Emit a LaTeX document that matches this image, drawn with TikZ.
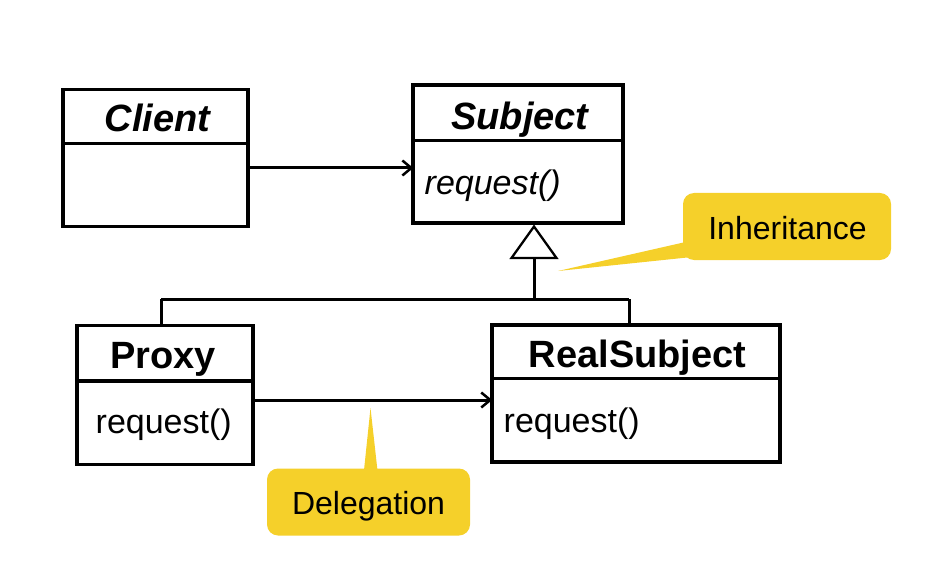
\documentclass[tikz,border=0pt]{standalone}
\usepackage{fontspec}
\setmainfont{Liberation Sans}
\usetikzlibrary{arrows.meta,calc}
\definecolor{calloutyellow}{RGB}{245,208,42}
\begin{document}
\begin{tikzpicture}[x=1pt,y=-1pt,
  cls/.style={draw,line width=3.8pt,inner sep=0pt,outer sep=0pt},
  divider/.style={line width=3.3pt},
  ttl/.style={anchor=base,inner sep=0pt,font=\fontsize{38}{40}\selectfont\bfseries},
  op/.style={anchor=base west,inner sep=0pt,font=\fontsize{34}{36}\selectfont},
  assoc/.style={line width=3pt,-{Straight Barb[length=9pt,width=15pt,line width=2.5pt]}},
  gen/.style={line width=3pt},
  callout/.style={fill=calloutyellow,rounded corners=11pt,inner sep=0pt,
    font=\fontsize{32}{34}\selectfont},
  callouttext/.style={anchor=base,inner sep=0pt,font=\fontsize{32}{34}\selectfont},
  ]
\useasboundingbox (0,0) rectangle (933,569);

% classes
\node[cls,minimum width=185pt,minimum height=137pt] (client) at (155.5,158) {};
\node[cls,minimum width=210pt,minimum height=138pt] (subject) at (518.3,154.2) {};
\node[cls,minimum width=176pt,minimum height=139pt] (proxy) at (164.7,395) {};
\node[cls,minimum width=288pt,minimum height=137pt] (real) at (636.2,393.7) {};

\draw[divider] (client.west |- 0,143.5) -- (client.east |- 0,143.5);
\draw[divider] (subject.west |- 0,140.5) -- (subject.east |- 0,140.5);
\draw[divider] (proxy.west |- 0,381) -- (proxy.east |- 0,381);
\draw[divider] (real.west |- 0,378.5) -- (real.east |- 0,378.5);

\node[ttl] (clientT) at (157.5,132) {\itshape Client};
\node[ttl] (subjectT) at (520,129.5) {\itshape Subject};
\node[ttl] (proxyT) at (163,368.5) {Proxy};
\node[ttl] (realT) at (637.5,367.5) {RealSubject};

\node[op] (subjectOp) at (424.5,194.5) {\itshape request()};
\node[op] (proxyOp) at (95.5,433.5) {request()};
\node[op] (realOp) at (503.5,432.5) {request()};

% association Client -> Subject
\coordinate (ca) at (248.5,168);
\draw[assoc] (ca) -- (ca -| subject.west);

% delegation Proxy -> RealSubject
\coordinate (pa) at (252.5,400);
\draw[assoc] (pa) -- (pa -| real.west);

% generalization
\coordinate (apex) at (534,226.5);
\coordinate (stem) at (534,258);
\coordinate (junc) at (534,299);
\coordinate (jl) at (161,299);
\coordinate (jr) at (629,299);
\draw[line width=2.3pt,fill=white] (apex) -- (511.5,258) -- (556.5,258) -- cycle;
\draw[gen] (stem) -- (junc);
\draw[gen] (jl) -- (jr);
\draw[gen] (jl) -- (jl |- proxy.north);
\draw[gen] (jr) -- (jr |- real.north);

% callouts
\coordinate (inhTip) at (558,271);
\coordinate (delTip) at (370.5,408);
\fill[calloutyellow] (inhTip) -- (690,241) -- (692,257) -- cycle;
\fill[calloutyellow] (delTip) -- (363.5,475) -- (378,475) -- cycle;
\node[callout,minimum width=208pt,minimum height=67pt] (inh) at (787,226.5) {};
\node[callout,minimum width=203pt,minimum height=67pt] (del) at (368.5,502) {};
\node[callouttext] (inhT) at (787.5,240) {Inheritance};
\node[callouttext] (delT) at (368.5,514.5) {Delegation};
\end{tikzpicture}
\end{document}
